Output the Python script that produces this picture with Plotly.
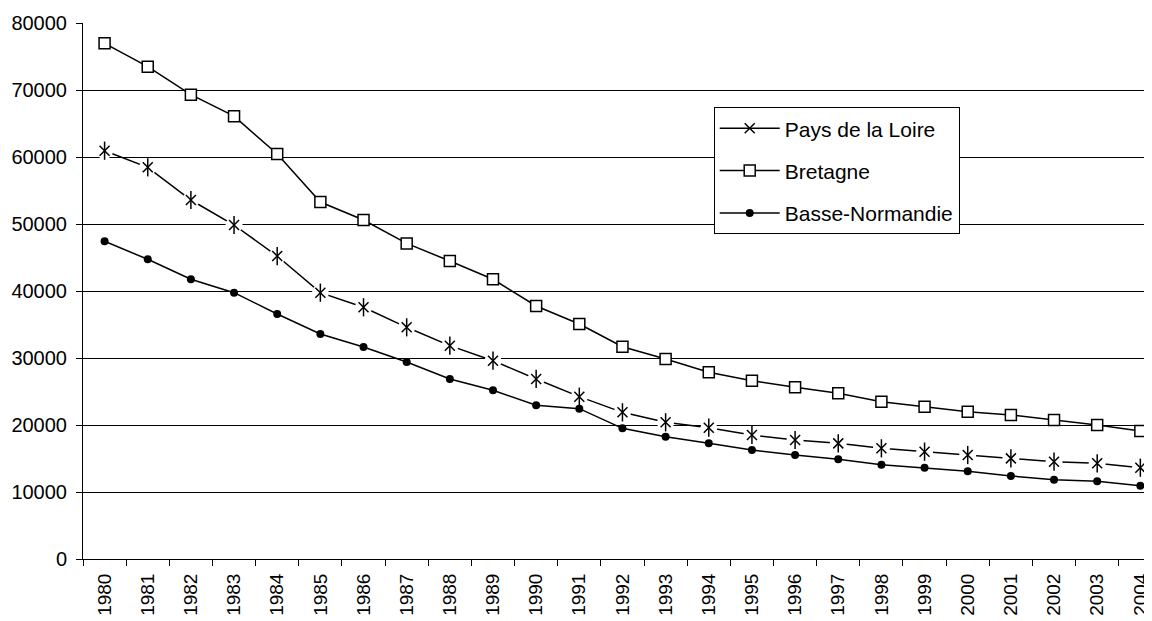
import plotly.graph_objects as go

years = [str(y) for y in range(1980, 2005)]

pays_de_la_loire = [60940, 58460, 53580, 49850, 45220, 39750, 37570, 34580, 31840, 29600,
                    26870, 24230, 21890, 20400, 19600, 18510, 17760, 17260, 16520, 16020,
                    15520, 15020, 14520, 14280, 13630]
bretagne = [76970, 73480, 69300, 66100, 60450, 53280, 50600, 47100, 44480, 41750,
            37760, 35070, 31690, 29850, 27860, 26620, 25620, 24730, 23480, 22730,
            21980, 21490, 20750, 20000, 19100]
basse_normandie = [47420, 44730, 41750, 39750, 36570, 33580, 31640, 29400, 26870, 25180,
                   22940, 22440, 19500, 18260, 17260, 16270, 15520, 14880, 14080, 13630,
                   13090, 12390, 11840, 11600, 10940]

y_ticks = [0, 10000, 20000, 30000, 40000, 50000, 60000, 70000, 80000]

FONT = "Arial, 'Liberation Sans', sans-serif"

fig = go.Figure()

# Pays de la Loire: line + star marker (legend entry)
fig.add_trace(go.Scatter(
    x=years, y=pays_de_la_loire, name="Pays de la Loire", mode="lines+markers",
    legendgroup="p",
    line=dict(color="black", width=1.5),
    marker=dict(symbol="x-thin-open", size=10, color="black",
                line=dict(color="black", width=1.5)),
))
# knock-out gaps around the stars
fig.add_trace(go.Scatter(
    x=years, y=pays_de_la_loire, mode="markers", showlegend=False, hoverinfo="skip",
    legendgroup="p",
    marker=dict(symbol="circle", size=17, color="white", line=dict(width=0)),
))
fig.add_trace(go.Scatter(
    x=years, y=pays_de_la_loire, mode="markers", showlegend=False, legendgroup="p",
    marker=dict(symbol="x-thin-open", size=10, color="black",
                line=dict(color="black", width=1.5)),
))
fig.add_trace(go.Scatter(
    x=years, y=pays_de_la_loire, mode="markers", showlegend=False, legendgroup="p",
    hoverinfo="skip",
    marker=dict(symbol="line-ns-open", size=13, color="black",
                line=dict(color="black", width=1.5)),
))
fig.add_trace(go.Scatter(
    x=years, y=bretagne, name="Bretagne", mode="lines+markers", legendgroup="b",
    line=dict(color="black", width=1.5),
    marker=dict(symbol="square", size=11, color="white", line=dict(color="black", width=1.5)),
))
fig.add_trace(go.Scatter(
    x=years, y=basse_normandie, name="Basse-Normandie", mode="lines+markers", legendgroup="n",
    line=dict(color="black", width=1.5),
    marker=dict(symbol="circle", size=8, color="black", line=dict(color="black", width=0)),
))

# The page body has an 8px margin: shrink the figure and its margins to compensate
fig.update_layout(
    width=1144, height=613,
    margin=dict(l=75, r=0, t=15, b=62),
    paper_bgcolor="white", plot_bgcolor="white",
    font=dict(family=FONT, color="black"),
    showlegend=True,
    legend=dict(
        x=0.59, y=0.843, xanchor="left", yanchor="top",
        bgcolor="white", bordercolor="black", borderwidth=1,
        font=dict(size=21, family=FONT, color="black"),
        tracegroupgap=12, itemwidth=60,
    ),
    xaxis=dict(
        type="category", range=[-0.5, 24.27], automargin=False,
        showline=True, linecolor="black", linewidth=1,
        ticks="outside", ticklen=6, tickcolor="black", tickwidth=1,
        tickson="boundaries", tickangle=-90, ticklabelstandoff=6,
        tickfont=dict(size=19, family=FONT, color="black"),
        showgrid=False, zeroline=False,
    ),
    yaxis=dict(
        range=[0, 80000], tickvals=y_ticks, ticktext=[str(v) for v in y_ticks],
        automargin=False,
        showline=True, linecolor="black", linewidth=1,
        ticks="outside", ticklen=6, tickcolor="black", tickwidth=1,
        ticklabelstandoff=5,
        tickfont=dict(size=20, family=FONT, color="black"),
        showgrid=True, gridcolor="black", gridwidth=1,
        zeroline=False,
    ),
)

fig.write_html("out.html")
